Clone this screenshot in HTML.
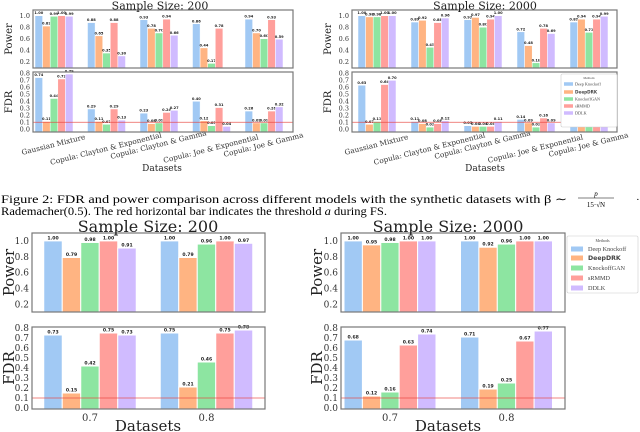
<!DOCTYPE html>
<html><head><meta charset="utf-8">
<style>
html,body{margin:0;padding:0;background:#fff;width:640px;height:432px;overflow:hidden}
svg{display:block}
</style></head>
<body>
<svg id="fig" width="640" height="432" viewBox="0 0 640 432" xmlns="http://www.w3.org/2000/svg">
<text x="1" y="203" style="font-family:'Liberation Serif',serif" font-size="11.5" textLength="566" lengthAdjust="spacingAndGlyphs">Figure 2:  FDR and power comparison across different models with the synthetic datasets with β ∼</text>
<g style="font-family:'Liberation Serif',serif">
<text x="596" y="196" font-size="7" font-style="italic" text-anchor="middle">p</text>
<line x1="578" y1="198" x2="614" y2="198" stroke="#000" stroke-width="0.6"/>
<text x="596" y="207" font-size="7" text-anchor="middle">15·√N</text>
<text x="636" y="203" font-size="11">·</text>
</g>
<text x="1" y="215" style="font-family:'Liberation Serif',serif" font-size="11.5" textLength="386" lengthAdjust="spacingAndGlyphs">Rademacher(0.5). The red horizontal bar indicates the threshold <tspan font-style="italic">a</tspan> during FS.</text>
</svg>
<script>
const methods = ["Deep Knockoff","DeepDRK","KnockoffGAN","sRMMD","DDLK"];
const colors = ["#a1c9f4","#ffb482","#8de5a1","#ff9f9b","#d0bbff"];
const copulaCategories = ["Gaussian Mixture","Copula: Clayton & Exponential","Copula: Clayton & Gamma","Copula: Joe & Exponential","Copula: Joe & Gamma"];
const rhoCategories = ["0.7","0.8"];
const powerTicks = [0.2,0.4,0.6,0.8,1.0];
const fdrTicks = [0.0,0.1,0.2,0.3,0.4,0.5,0.6,0.7,0.8];
const threshold = 0.1;
// values[group][method]
const power200Copula = [[1.00,0.82,0.99,1.00,0.99],[0.88,0.65,0.35,0.88,0.30],[0.93,0.78,0.70,0.94,0.66],[0.86,0.44,0.17,0.78,null],[0.94,0.70,0.60,0.93,0.59]];
const fdr200Copula = [[0.74,0.11,0.44,0.72,0.79],[0.29,0.11,0.07,0.29,0.13],[0.23,0.08,0.09,0.24,0.27],[0.40,0.12,0.05,0.31,0.04],[0.26,0.09,0.09,0.26,0.32]];
const power2000Copula = [[1.00,0.98,0.98,1.00,1.00],[0.89,0.92,0.45,0.88,0.96],[0.93,0.97,0.80,0.94,1.00],[0.72,0.48,0.18,0.78,0.69],[0.89,0.94,0.71,0.94,0.99]];
const fdr2000Copula = [[0.63,0.07,0.11,0.64,0.70],[0.11,0.08,0.03,0.08,0.12],[0.05,0.04,0.04,0.04,0.11],[0.14,0.09,0.03,0.16,0.09],[0.05,0.05,0.05,0.05,0.12]];
const power200Rho = [[1.00,0.79,0.98,1.00,0.91],[1.00,0.79,0.96,1.00,0.97]];
const fdr200Rho = [[0.73,0.15,0.42,0.75,0.73],[0.75,0.21,0.46,0.75,0.78]];
const power2000Rho = [[1.00,0.95,0.98,1.00,1.00],[1.00,0.92,0.96,1.00,1.00]];
const fdr2000Rho = [[0.68,0.12,0.16,0.63,0.74],[0.71,0.19,0.25,0.67,0.77]];

const NS="http://www.w3.org/2000/svg";
const svg=document.getElementById('fig');
function mk(tag,attrs,parent){const e=document.createElementNS(NS,tag);for(const k in attrs)e.setAttribute(k,attrs[k]);(parent||svg).appendChild(e);return e;}
function txt(s,attrs,parent){const e=mk('text',attrs,parent);e.textContent=s;return e;}

function panel(o){
  const g=mk('g',{});
  
  
  const ys=v=>o.y1-(v-o.vmin)/(o.vmax-o.vmin)*(o.y1-o.y0);
  const cx=i=>o.c0+i*o.step;
  o.values.forEach((grp,i)=>{
    grp.forEach((v,m)=>{
      if(v===null)return;
      const x=cx(i)+(m-2)*o.bw-o.bw/2;
      const top=Math.max(ys(v),o.y0);
      const r=mk('rect',{x:x,y:top,width:o.bw,height:o.y1-top,fill:colors[m],stroke:'#fff','stroke-width':o.bw>10?1:0.5},g);
      
      
      const t=txt(v.toFixed(2),{x:x+o.bw/2,y:top-1.5,'text-anchor':'middle','font-size':o.vfs,'font-weight':'bold','font-family':'DejaVu Sans, sans-serif',fill:'#222'},g);
      
      
    });
  });
  if(o.thresh){
    const l=mk('line',{x1:o.x0,x2:o.x1,y1:ys(threshold),y2:ys(threshold),stroke:'#e8413c','stroke-width':0.8,opacity:0.85},g);
    
    
  }
  const f=mk('rect',{x:o.x0,y:o.y0,width:o.x1-o.x0,height:o.y1-o.y0,fill:'none',stroke:'#777','stroke-width':1.2},g);
  
  
  o.ticks.forEach(t=>{
    const e=txt(t.toFixed(1),{x:o.x0-3,y:ys(t)+o.tfs*0.35,'text-anchor':'end','font-size':o.tfs,'font-family':'DejaVu Serif, serif',fill:'#333'},g);
    
    
  });
  const yl=txt(o.ylabel,{x:o.ylx,y:(o.y0+o.y1)/2,'text-anchor':'middle','font-size':o.yfs,'font-family':'DejaVu Serif, serif',fill:'#222',transform:`rotate(-90 ${o.ylx} ${(o.y0+o.y1)/2})`},g);
  
  
  if(o.xcats){
    o.xcats.forEach((c,i)=>{
      let e;
      if(o.rot){
        const yy=o.xly+(i%2?4:0);
        e=txt(c,{x:cx(i),y:yy,'text-anchor':'middle','font-size':o.xfs,'font-family':'DejaVu Serif, serif',fill:'#333',transform:`rotate(-14 ${cx(i)} ${yy})`},g);
      } else {
        e=txt(c,{x:cx(i),y:o.xly,'text-anchor':'middle','font-size':o.xfs,'font-family':'DejaVu Serif, serif',fill:'#333'},g);
      }
      
      
    });
  }
}

function legend(x0,y0,w,h,ys,px,pw,ph,tx,fs,tfs){
  const g=mk('g',{});
  
  
  mk('rect',{x:x0,y:y0,width:w,height:h,fill:'#fff',stroke:'#ccc','stroke-width':0.6,rx:1.5},g);
  txt('Methods',{x:x0+w/2,y:y0+tfs+2,'text-anchor':'middle','font-size':tfs,'font-family':'Liberation Serif, serif',fill:'#444'},g);
  methods.forEach((m,i)=>{
    const r=mk('rect',{x:px,y:ys[i]-ph/2,width:pw,height:ph,fill:colors[i]},g);
    
    
    const t=txt(m,{x:tx,y:ys[i]+fs*0.35,'font-size':fs,'font-family':i===1?'DejaVu Sans, sans-serif':'Liberation Serif, serif','font-weight':i===1?'bold':'normal',fill:'#444'},g);
    
    
  });
}
function label(s,x,y,fs,name){const e=txt(s,{x:x,y:y,'text-anchor':'middle','font-size':fs,'font-family':'DejaVu Serif, serif',fill:'#222'});}

// top-left
panel({name:'top-left-power',x0:33,x1:293,y0:10,y1:68,vmin:0.09,vmax:1.10,c0:54,step:52.5,bw:7.6,values:power200Copula,ticks:powerTicks,tfs:6.5,vfs:3.6,ylabel:'Power',ylx:12,yfs:10});
panel({name:'top-left-fdr',x0:33,x1:293,y0:72,y1:132,vmin:-0.04,vmax:0.82,c0:54,step:52.5,bw:7.6,values:fdr200Copula,ticks:fdrTicks,tfs:6.5,vfs:3.6,ylabel:'FDR',ylx:12,yfs:10,thresh:true,xcats:copulaCategories,rot:true,xly:147,xfs:7.3});
label('Sample Size: 200',160,9.5,11,'chart-title');
label('Datasets',162,171,9,'x-axis-title');
// top-right
panel({name:'top-right-power',x0:352,x1:617,y0:10,y1:68,vmin:0.09,vmax:1.10,c0:377,step:53,bw:7.6,values:power2000Copula,ticks:powerTicks,tfs:6.5,vfs:3.6,ylabel:'Power',ylx:331,yfs:10});
panel({name:'top-right-fdr',x0:352,x1:617,y0:72,y1:132,vmin:-0.04,vmax:0.82,c0:377,step:53,bw:7.6,values:fdr2000Copula,ticks:fdrTicks,tfs:6.5,vfs:3.6,ylabel:'FDR',ylx:331,yfs:10,thresh:true,xcats:copulaCategories,rot:true,xly:147,xfs:7.3});
label('Sample Size: 2000',485,9.5,11,'chart-title');
label('Datasets',485,171,9,'x-axis-title');
legend(561,74,56,53,[84,92,99,106,113],564,9,3.5,575,4.2,3.2);
// bottom-left
panel({name:'bottom-left-power',x0:32,x1:265,y0:233,y1:312,vmin:0.1,vmax:1.1,c0:90,step:116.5,bw:18.5,values:power200Rho,ticks:powerTicks,tfs:9,vfs:4.6,ylabel:'Power',ylx:14,yfs:15});
panel({name:'bottom-left-fdr',x0:32,x1:265,y0:327,y1:409,vmin:-0.01,vmax:0.81,c0:90,step:116.5,bw:18.5,values:fdr200Rho,ticks:fdrTicks,tfs:9,vfs:4.6,ylabel:'FDR',ylx:14,yfs:15,thresh:true,xcats:rhoCategories,xly:421,xfs:10});
label('Sample Size: 200',148,232,16,'chart-title');
label('Datasets',148,431,15,'x-axis-title');
// bottom-right
panel({name:'bottom-right-power',x0:341,x1:565,y0:233,y1:312,vmin:0.1,vmax:1.1,c0:390,step:116.5,bw:18.4,values:power2000Rho,ticks:powerTicks,tfs:9,vfs:4.6,ylabel:'Power',ylx:322,yfs:15});
panel({name:'bottom-right-fdr',x0:341,x1:565,y0:327,y1:409,vmin:-0.01,vmax:0.81,c0:390,step:116.5,bw:18.4,values:fdr2000Rho,ticks:fdrTicks,tfs:9,vfs:4.6,ylabel:'FDR',ylx:322,yfs:15,thresh:true,xcats:rhoCategories,xly:421,xfs:10});
label('Sample Size: 2000',448,232,16,'chart-title');
label('Datasets',448,431,15,'x-axis-title');
legend(567,236,71,57,[249,258,268,278,288],571,12,5,588,6.2,4);
</script>
</body></html>
